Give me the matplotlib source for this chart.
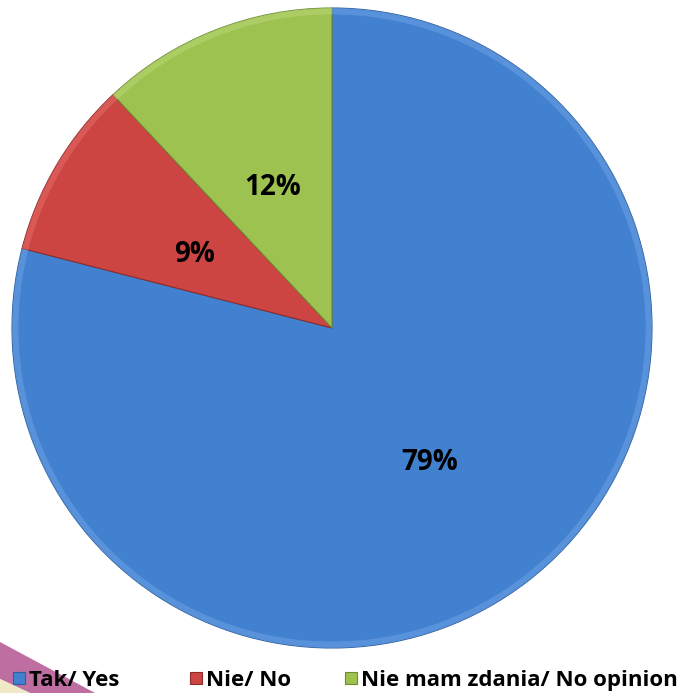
import numpy as np
import matplotlib
matplotlib.use('Agg')
from matplotlib import pyplot as plt
from matplotlib.patches import Polygon, Rectangle

plt.rcParams['font.family'] = ['Open Sans', 'DejaVu Sans']

# dane
labels = ['Tak/ Yes', 'Nie/ No', 'Nie mam zdania/ No opinion']
values = [79, 9, 12]
colors = ['#4281D0', '#CD4543', '#9DC24F']
edge_dark = ['#2E5F9E', '#8E2C2A', '#6E8C34']
edge_light = ['#6FA3E6', '#E56E6A', '#BAD97A']

W, H = 685, 693
fig = plt.figure(figsize=(W / 100, H / 100), dpi=100)

# pasek dekoracyjny w lewym dolnym rogu
fig.patches.append(Polygon([(0, 51 / H), (0, 14 / H), (30 / W, 0), (95 / W, 0)],
                           closed=True, transform=fig.transFigure,
                           facecolor='#B3558F', edgecolor='none', alpha=0.85))
fig.patches.append(Polygon([(0, 14 / H), (0, 0), (30 / W, 0)],
                           closed=True, transform=fig.transFigure,
                           facecolor='#EFE9C8', edgecolor='none'))

cx, cy, r = 332, 328, 320
ax = fig.add_axes([(cx - r) / W, (H - cy - r) / H, 2 * r / W, 2 * r / H])

wedges, texts, autotexts = ax.pie(values, colors=colors, startangle=90,
                                  counterclock=False, radius=1,
                                  autopct='%d%%', pctdistance=0.5,
                                  wedgeprops=dict(edgecolor='none'),
                                  textprops=dict(fontsize=20, fontweight='bold',
                                                 color='black'))
for w, c in zip(wedges, edge_dark):
    w.set_edgecolor(c)
    w.set_linewidth(0.8)

# efekt fazy: jasny pierscien przy krawedzi
ring, _ = ax.pie(values, colors=edge_light, startangle=90, counterclock=False,
                 radius=1, wedgeprops=dict(width=0.02, edgecolor='none', alpha=0.5))
for t in autotexts:
    t.set_zorder(5)
    x, y = t.get_position()
    t.set_position((x, y - 0.025))

ax.set_xlim(-1.0, 1.0)
ax.set_ylim(-1.0, 1.0)
ax.set_aspect('equal')
ax.axis('off')

# legenda pod wykresem (x kwadratu w pikselach)
leg_x = [13, 190, 345]
leg_y = 678
for x, lab, c, e in zip(leg_x, labels, colors, edge_dark):
    fig.patches.append(Rectangle((x / W, (H - leg_y - 6) / H), 12 / W, 12 / H,
                                 transform=fig.transFigure, facecolor=c,
                                 edgecolor=e, linewidth=0.8))
    fig.text((x + 16) / W, (H - leg_y) / H, lab, fontsize=16, fontweight='bold',
             ha='left', va='center_baseline')

fig.savefig('out.png', dpi=100)
